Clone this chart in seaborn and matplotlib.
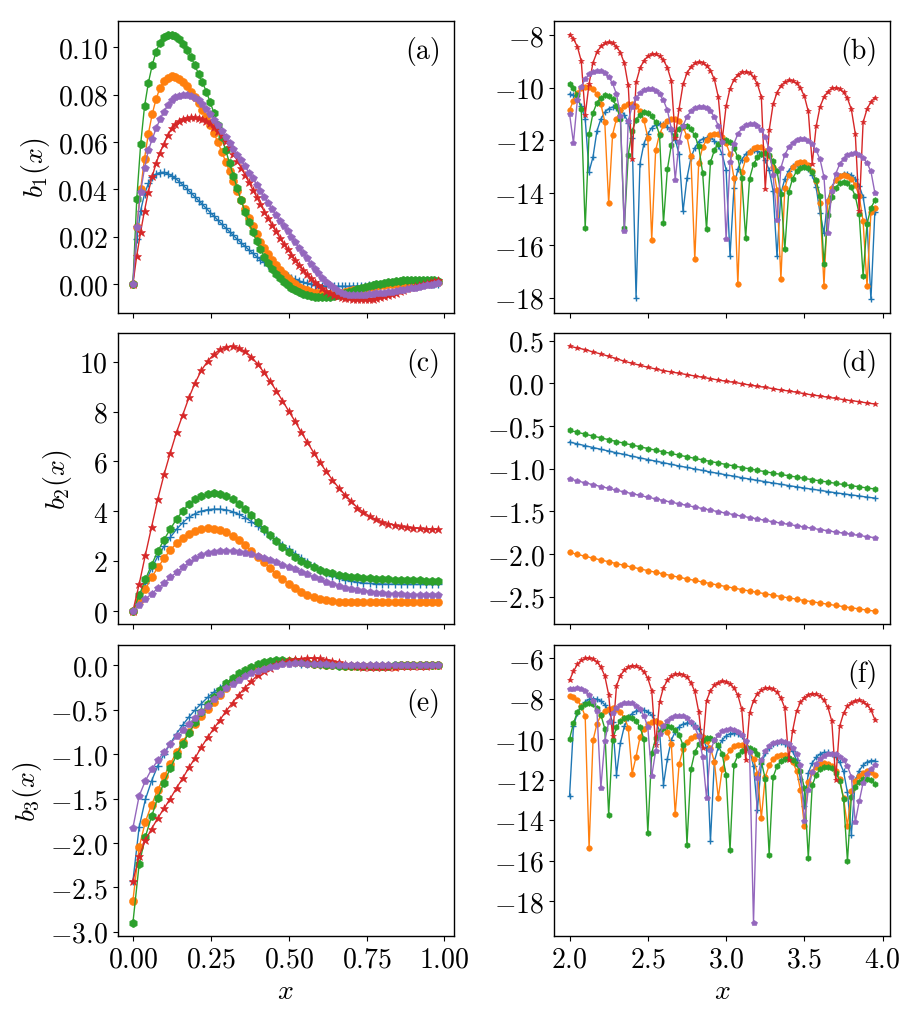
import numpy as np
import matplotlib
matplotlib.use("Agg")
import matplotlib.pyplot as plt
from matplotlib.ticker import MultipleLocator
import seaborn as sns

# sample positions
x_left_a = np.linspace(0.0, 0.98, 80)
x_left = np.linspace(0.0, 0.98, 50)
x_right = np.linspace(2.0, 3.95, 79)
x_right_d = np.linspace(2.0, 3.95, 40)

# ---- panel (a): b1(x), x in [0, 1]
a_blue = [0.0, .019, .031, .038, .0425, .045, .0465, .0471, .0472, .0466,
          .0457, .0446, .0432, .0417, .0401, .0385, .0369, .0352, .0336, .0319,
          .0302, .0286, .0269, .0253, .0237, .0221, .0205, .0189, .0174, .0159,
          .0144, .0130, .0116, .0103, .0091, .0079, .0068, .0058, .0049, .0040,
          .0032, .0025, .0019, .0013, .0008, .0004, .0000, -.0003, -.0005, -.0007,
          -.0008, -.0009, -.0010, -.0010, -.0010, -.0010, -.0010, -.0009, -.0009, -.0008,
          -.0007, -.0006, -.0005, -.0004, -.0003, -.0002, -.0001, .0000, .0001, .0002,
          .0002, .0003, .0003, .0003, .0003, .0003, .0003, .0002, .0002, .0001]
a_orange = [0.0, .024, .040, .053, .0635, .0718, .0782, .0828, .0857, .0872,
            .0877, .0875, .0867, .0853, .0835, .0813, .0790, .0765, .0737, .0706,
            .0672, .0636, .0598, .0558, .0517, .0476, .0435, .0394, .0354, .0315,
            .0278, .0243, .0210, .0179, .0151, .0125, .0101, .0079, .0059, .0041,
            .0025, .0011, -.0001, -.0011, -.0020, -.0027, -.0033, -.0037, -.0040, -.0042,
            -.0043, -.0043, -.0042, -.0040, -.0037, -.0034, -.0031, -.0027, -.0024, -.0020,
            -.0017, -.0014, -.0011, -.0008, -.0006, -.0004, -.0002, .0000, .0002, .0003,
            .0004, .0005, .0006, .0006, .0007, .0007, .0007, .0007, .0007, .0007]
a_green = [0.0, .036, .059, .075, .085, .0925, .0982, .1020, .1042, .1053,
           .1054, .1048, .1035, .1016, .0990, .0960, .0925, .0887, .0852, .0812,
           .0768, .0721, .0671, .0619, .0565, .0511, .0457, .0404, .0353, .0305,
           .0260, .0219, .0181, .0147, .0116, .0089, .0065, .0044, .0026, .0010,
           -.0004, -.0016, -.0026, -.0035, -.0042, -.0048, -.0052, -.0055, -.0057, -.0057,
           -.0056, -.0054, -.0051, -.0047, -.0043, -.0038, -.0033, -.0028, -.0023, -.0018,
           -.0014, -.0010, -.0006, -.0002, .0001, .0004, .0007, .0010, .0012, .0014,
           .0016, .0017, .0018, .0018, .0018, .0018, .0017, .0016, .0015, .0014]
a_red = [0.0, .012, .022, .031, .039, .0455, .0510, .0555, .0590, .0628,
         .0657, .0677, .0690, .0698, .0702, .0704, .0704, .0701, .0696, .0690,
         .0679, .0665, .0648, .0628, .0604, .0578, .0550, .0521, .0491, .0461,
         .0430, .0399, .0368, .0337, .0306, .0277, .0249, .0222, .0196, .0171,
         .0147, .0124, .0102, .0081, .0061, .0042, .0025, .0009, -.0005, -.0018,
         -.0029, -.0038, -.0045, -.0051, -.0055, -.0058, -.0060, -.0062, -.0064, -.0065,
         -.0065, -.0064, -.0062, -.0059, -.0055, -.0051, -.0046, -.0041, -.0036, -.0030,
         -.0024, -.0019, -.0013, -.0008, -.0003, .0002, .0006, .0010, .0014, .0017]
a_purple = [0.0, .024, .039, .049, .0565, .0612, .0657, .0695, .0728, .0755,
            .0776, .0789, .0796, .0799, .0799, .0795, .0787, .0776, .0760, .0741,
            .0718, .0694, .0670, .0645, .0620, .0596, .0572, .0547, .0522, .0497,
            .0471, .0446, .0420, .0394, .0368, .0343, .0317, .0292, .0268, .0245,
            .0222, .0199, .0176, .0153, .0130, .0108, .0086, .0065, .0045, .0026,
            .0009, -.0006, -.0018, -.0028, -.0036, -.0041, -.0045, -.0047, -.0048, -.0047,
            -.0046, -.0044, -.0042, -.0040, -.0038, -.0036, -.0034, -.0032, -.0030, -.0027,
            -.0024, -.0021, -.0018, -.0015, -.0012, -.0009, -.0006, -.0003, .0000, .0003]

# ---- panel (b): b1(x), x in [2, 4]
b_blue = [-10.25, -10.28, -10.44, -10.71, -11.19, -13.2, -12.64, -11.65, -11.20, -10.94,
          -10.80, -10.74, -10.76, -10.85, -11.03, -11.34, -11.92, -17.99, -12.89, -12.14,
          -11.76, -11.53, -11.42, -11.37, -11.39, -11.49, -11.67, -11.98, -12.54, -14.71,
          -13.45, -12.68, -12.29, -12.06, -11.95, -11.90, -11.92, -12.02, -12.21, -12.54,
          -13.13, -16.42, -13.83, -13.10, -12.74, -12.53, -12.41, -12.38, -12.42, -12.54,
          -12.76, -13.14, -13.93, -16.42, -14.03, -13.47, -13.16, -12.98, -12.90, -12.88,
          -12.94, -13.08, -13.34, -13.79, -14.78, -15.53, -14.26, -13.78, -13.51, -13.35,
          -13.27, -13.27, -13.33, -13.47, -13.73, -14.17, -15.12, -18.06, -14.72]
b_orange = [-10.85, -10.50, -10.19, -10.02, -9.96, -9.97, -10.07, -10.25, -10.61, -11.30,
            -14.4, -11.79, -11.19, -10.86, -10.69, -10.61, -10.61, -10.70, -10.89, -11.24,
            -11.90, -15.79, -12.39, -11.77, -11.44, -11.26, -11.19, -11.19, -11.29, -11.49,
            -11.86, -12.60, -16.54, -12.86, -12.28, -11.98, -11.82, -11.75, -11.77, -11.89,
            -12.12, -12.53, -13.43, -17.49, -13.23, -12.72, -12.45, -12.31, -12.25, -12.28,
            -12.40, -12.62, -13.03, -13.89, -17.29, -13.82, -13.31, -13.03, -12.88, -12.82,
            -12.85, -12.96, -13.19, -13.57, -14.41, -17.55, -14.33, -13.81, -13.53, -13.38,
            -13.32, -13.35, -13.47, -13.70, -14.13, -15.09, -17.55, -14.73, -14.6]
b_green = [-9.85, -10.00, -10.28, -10.81, -15.34, -11.75, -10.96, -10.58, -10.38, -10.30,
           -10.32, -10.45, -10.70, -11.20, -15.34, -12.55, -11.64, -11.23, -11.03, -10.94,
           -10.95, -11.07, -11.32, -11.81, -15.15, -13.11, -12.19, -11.79, -11.58, -11.48,
           -11.48, -11.59, -11.82, -12.24, -13.24, -15.4, -12.85, -12.38, -12.14, -12.02,
           -12.01, -12.08, -12.29, -12.66, -13.45, -15.72, -13.46, -12.92, -12.66, -12.53,
           -12.50, -12.58, -12.79, -13.18, -14.04, -16.16, -13.97, -13.46, -13.18, -13.05,
           -13.01, -13.07, -13.22, -13.53, -14.12, -16.73, -14.86, -14.15, -13.81, -13.64,
           -13.58, -13.63, -13.79, -14.13, -14.81, -17.17, -15.18, -14.59, -14.29]
b_red = [-7.98, -8.14, -8.44, -8.99, -11.05, -9.85, -9.05, -8.66, -8.43, -8.32,
         -8.28, -8.32, -8.44, -8.67, -9.07, -9.92, -12.7, -9.80, -9.27, -8.97,
         -8.81, -8.73, -8.73, -8.80, -8.96, -9.24, -9.74, -11.9, -10.80, -9.88,
         -9.45, -9.21, -9.08, -9.03, -9.05, -9.16, -9.35, -9.69, -10.35, -12.0,
         -10.70, -10.04, -9.70, -9.51, -9.41, -9.39, -9.45, -9.60, -9.87, -10.35,
         -13.87, -11.63, -10.64, -10.19, -9.93, -9.79, -9.73, -9.75, -9.84, -10.02,
         -10.33, -10.91, -12.9, -11.48, -10.73, -10.36, -10.15, -10.03, -10.00, -10.05,
         -10.18, -10.41, -10.83, -11.75, -14.7, -11.32, -10.82, -10.54, -10.38]
b_purple = [-10.99, -12.1, -10.47, -9.97, -9.67, -9.50, -9.39, -9.35, -9.37, -9.45,
            -9.60, -9.84, -10.25, -11.07, -15.47, -11.26, -10.72, -10.40, -10.21, -10.09,
            -10.04, -10.05, -10.12, -10.26, -10.49, -10.86, -11.56, -13.5, -12.08, -11.45,
            -11.11, -10.90, -10.78, -10.72, -10.72, -10.78, -10.90, -11.11, -11.45, -12.08,
            -15.78, -12.84, -12.13, -11.77, -11.55, -11.43, -11.37, -11.38, -11.46, -11.62,
            -11.88, -12.34, -13.33, -15.03, -13.05, -12.56, -12.27, -12.09, -11.99, -11.94,
            -11.95, -12.02, -12.16, -12.39, -12.73, -13.40, -15.53, -13.94, -13.28, -12.92,
            -12.70, -12.57, -12.51, -12.50, -12.56, -12.67, -12.87, -13.19, -14.0]

# ---- panel (c): b2(x), x in [0, 1]
c_blue = [0.0, .50, 1.12, 1.72, 2.20, 2.60, 2.96, 3.28, 3.55, 3.76,
          3.91, 4.01, 4.07, 4.09, 4.09, 4.06, 3.99, 3.88, 3.75, 3.59,
          3.41, 3.22, 3.03, 2.84, 2.66, 2.48, 2.31, 2.13, 1.96, 1.80,
          1.66, 1.53, 1.42, 1.33, 1.26, 1.20, 1.16, 1.13, 1.11, 1.10,
          1.09, 1.08, 1.08, 1.07, 1.07, 1.07, 1.07, 1.07, 1.07, 1.07]
c_orange = [0.0, .40, .88, 1.35, 1.75, 2.12, 2.45, 2.72, 2.93, 3.10,
            3.22, 3.29, 3.32, 3.31, 3.26, 3.16, 3.03, 2.86, 2.65, 2.42,
            2.18, 1.95, 1.72, 1.50, 1.29, 1.10, .93, .78, .65, .55,
            .48, .43, .40, .38, .37, .36, .36, .36, .36, .36,
            .36, .36, .36, .36, .36, .36, .36, .36, .36, .36]
c_green = [0.0, .63, 1.27, 1.86, 2.40, 2.87, 3.29, 3.69, 4.02, 4.28,
           4.48, 4.61, 4.69, 4.72, 4.69, 4.61, 4.48, 4.30, 4.08, 3.84,
           3.58, 3.31, 3.05, 2.80, 2.57, 2.36, 2.18, 2.02, 1.88, 1.76,
           1.66, 1.58, 1.51, 1.46, 1.42, 1.38, 1.35, 1.33, 1.31, 1.29,
           1.28, 1.27, 1.26, 1.25, 1.24, 1.23, 1.23, 1.22, 1.22, 1.21]
c_red = [0.0, 1.08, 2.25, 3.38, 4.50, 5.48, 6.35, 7.17, 7.87, 8.57,
         9.16, 9.66, 10.02, 10.30, 10.50, 10.60, 10.62, 10.56, 10.41, 10.20,
         9.91, 9.58, 9.22, 8.84, 8.44, 8.02, 7.62, 7.18, 6.77, 6.36,
         5.96, 5.61, 5.27, 4.95, 4.67, 4.41, 4.15, 3.97, 3.80, 3.68,
         3.58, 3.51, 3.45, 3.40, 3.37, 3.34, 3.32, 3.30, 3.29, 3.28]
c_purple = [0.0, .25, .48, .70, .91, 1.13, 1.35, 1.56, 1.76, 1.95,
            2.11, 2.24, 2.33, 2.39, 2.42, 2.43, 2.42, 2.39, 2.34, 2.28,
            2.21, 2.13, 2.04, 1.95, 1.86, 1.77, 1.68, 1.58, 1.48, 1.37,
            1.27, 1.18, 1.09, 1.01, .94, .88, .83, .79, .76, .73,
            .71, .69, .68, .67, .66, .66, .65, .65, .65, .64]

# ---- panel (d): b2(x), x in [2, 4]
d_blue = [-.688, -.709, -.731, -.752, -.773, -.793, -.814, -.833, -.854, -.873,
          -.893, -.911, -.930, -.949, -.968, -.985, -1.003, -1.020, -1.039, -1.055,
          -1.072, -1.088, -1.105, -1.121, -1.137, -1.152, -1.168, -1.182, -1.198, -1.212,
          -1.227, -1.240, -1.254, -1.268, -1.282, -1.294, -1.307, -1.319, -1.333, -1.344]
d_orange = [-1.981, -2.003, -2.026, -2.047, -2.069, -2.090, -2.112, -2.132, -2.153, -2.173,
            -2.194, -2.213, -2.233, -2.252, -2.272, -2.290, -2.309, -2.327, -2.346, -2.363,
            -2.381, -2.398, -2.416, -2.432, -2.449, -2.465, -2.482, -2.497, -2.513, -2.528,
            -2.544, -2.558, -2.573, -2.587, -2.602, -2.615, -2.629, -2.642, -2.656, -2.668]
d_green = [-.551, -.573, -.596, -.617, -.639, -.660, -.682, -.702, -.723, -.743,
           -.764, -.783, -.803, -.822, -.842, -.860, -.879, -.897, -.916, -.933,
           -.951, -.968, -.986, -1.002, -1.019, -1.035, -1.052, -1.067, -1.083, -1.098,
           -1.114, -1.128, -1.143, -1.157, -1.172, -1.185, -1.199, -1.212, -1.226, -1.238]
d_red = [.434, .414, .395, .367, .344, .316, .289, .258, .234, .211,
         .188, .168, .148, .133, .117, .102, .086, .070, .055, .039,
         .023, .012, -.004, -.020, -.035, -.047, -.063, -.078, -.090, -.105,
         -.121, -.137, -.148, -.164, -.176, -.191, -.203, -.215, -.230, -.242]
d_purple = [-1.121, -1.143, -1.166, -1.187, -1.209, -1.230, -1.252, -1.272, -1.293, -1.313,
            -1.334, -1.353, -1.373, -1.392, -1.412, -1.430, -1.449, -1.467, -1.486, -1.503,
            -1.521, -1.538, -1.556, -1.572, -1.589, -1.605, -1.622, -1.637, -1.653, -1.668,
            -1.684, -1.698, -1.713, -1.727, -1.742, -1.755, -1.769, -1.782, -1.796, -1.808]

# ---- panel (e): b3(x), x in [0, 1]
e_blue = [-2.43, -1.82, -1.51, -1.30, -1.13, -1.00, -.88, -.77, -.67, -.58,
          -.50, -.43, -.36, -.30, -.25, -.20, -.155, -.11, -.07, -.04,
          -.012, .008, .022, .029, .031, .029, .025, .020, .015, .010,
          .006, .003, .001, -.001, -.002, -.002, -.002, -.002, -.001, -.001,
          -.001, 0.0, 0.0, 0.0, 0.0, 0.0, 0.0, 0.0, 0.0, 0.0]
e_orange = [-2.65, -2.05, -1.76, -1.57, -1.40, -1.25, -1.11, -.98, -.86, -.75,
            -.66, -.57, -.49, -.41, -.33, -.25, -.18, -.12, -.07, -.035,
            -.008, .015, .030, .040, .044, .045, .041, .035, .028, .021,
            .014, .008, .003, .000, -.002, -.003, -.004, -.004, -.004, -.003,
            -.003, -.002, -.002, -.001, -.001, 0.0, 0.0, 0.0, 0.0, 0.0]
e_green = [-2.90, -2.24, -1.93, -1.70, -1.49, -1.32, -1.16, -1.01, -.88, -.76,
           -.64, -.53, -.44, -.36, -.28, -.20, -.14, -.09, -.05, -.015,
           .015, .035, .048, .055, .056, .052, .045, .036, .027, .018,
           .010, .004, -.001, -.004, -.006, -.007, -.007, -.006, -.005, -.004,
           -.003, -.002, -.001, .000, .000, .001, .001, .001, .001, .001]
e_red = [-2.43, -2.15, -1.97, -1.84, -1.72, -1.61, -1.50, -1.38, -1.27, -1.15,
         -1.04, -.92, -.81, -.71, -.61, -.51, -.42, -.33, -.25, -.18,
         -.11, -.065, -.027, .010, .036, .055, .068, .076, .081, .083,
         .078, .066, .050, .034, .019, .006, -.005, -.013, -.018, -.020,
         -.019, -.017, -.014, -.011, -.008, -.006, -.004, -.002, -.001, .000]
e_purple = [-1.83, -1.47, -1.30, -1.17, -1.07, -.975, -.885, -.80, -.725, -.66,
            -.595, -.53, -.455, -.38, -.32, -.26, -.21, -.165, -.125, -.090,
            -.060, -.036, -.018, -.002, .010, .018, .022, .023, .021, .018,
            .015, .012, .009, .007, .005, .004, .003, .002, .002, .001,
            .001, .001, 0.0, 0.0, 0.0, 0.0, 0.0, 0.0, 0.0, 0.0]

# ---- panel (f): b3(x), x in [2, 4]
f_blue = [-12.83, -9.37, -8.71, -8.36, -8.16, -8.04, -8.00, -8.03, -8.12, -8.30,
          -8.61, -9.16, -11.76, -10.19, -9.37, -8.97, -8.74, -8.61, -8.55, -8.57,
          -8.65, -8.82, -9.11, -9.60, -12.25, -10.97, -10.06, -9.63, -9.39, -9.26,
          -9.20, -9.22, -9.32, -9.50, -9.84, -10.45, -15.05, -11.10, -10.40, -10.05,
          -9.84, -9.73, -9.70, -9.75, -9.87, -10.10, -10.50, -11.35, -13.48, -11.25,
          -10.71, -10.42, -10.25, -10.17, -10.15, -10.22, -10.35, -10.61, -11.04, -11.98,
          -13.3, -11.67, -11.18, -10.90, -10.74, -10.66, -10.66, -10.73, -10.88, -11.14,
          -11.60, -12.63, -14.72, -12.04, -11.56, -11.29, -11.13, -11.06, -11.06]
f_orange = [-7.88, -7.94, -8.09, -8.37, -8.88, -15.37, -10.07, -9.25, -8.83, -8.62,
            -8.50, -8.47, -8.52, -8.67, -8.94, -9.43, -11.7, -10.87, -9.92, -9.49,
            -9.27, -9.15, -9.12, -9.19, -9.35, -9.64, -10.22, -13.7, -11.23, -10.51,
            -10.13, -9.94, -9.84, -9.84, -9.92, -10.11, -10.45, -11.11, -12.9, -11.49,
            -10.87, -10.54, -10.36, -10.29, -10.29, -10.39, -10.59, -10.96, -11.70, -13.9,
            -11.87, -11.30, -11.00, -10.84, -10.77, -10.80, -10.92, -11.14, -11.56, -12.52,
            -14.3, -12.13, -11.64, -11.38, -11.23, -11.18, -11.21, -11.33, -11.56, -11.97,
            -12.90, -14.3, -12.57, -12.07, -11.80, -11.65, -11.60, -11.63, -11.75]
f_green = [-10.0, -9.22, -8.68, -8.40, -8.26, -8.22, -8.29, -8.46, -8.80, -9.48,
           -13.73, -10.03, -9.42, -9.12, -8.96, -8.91, -8.96, -9.11, -9.41, -9.99,
           -14.63, -10.69, -9.97, -9.63, -9.44, -9.37, -9.40, -9.53, -9.79, -10.31,
           -15.21, -11.50, -10.65, -10.25, -10.05, -9.96, -9.97, -10.07, -10.31, -10.74,
           -11.78, -15.49, -11.26, -10.81, -10.57, -10.46, -10.45, -10.53, -10.73, -11.12,
           -11.95, -15.7, -11.88, -11.35, -11.09, -10.96, -10.93, -11.01, -11.21, -11.59,
           -12.42, -15.87, -12.29, -11.76, -11.50, -11.37, -11.36, -11.44, -11.65, -12.05,
           -12.94, -16.03, -12.85, -12.35, -12.10, -11.97, -11.95, -12.03, -12.23]
f_red = [-7.10, -6.66, -6.32, -6.12, -6.02, -6.00, -6.05, -6.19, -6.44, -6.88,
         -7.81, -9.87, -7.37, -6.87, -6.60, -6.45, -6.38, -6.40, -6.49, -6.67,
         -7.00, -7.61, -10.28, -8.16, -7.46, -7.11, -6.90, -6.80, -6.77, -6.82,
         -6.96, -7.21, -7.65, -8.65, -10.44, -8.10, -7.62, -7.35, -7.21, -7.15,
         -7.17, -7.27, -7.48, -7.83, -8.53, -11.02, -8.71, -8.10, -7.77, -7.59,
         -7.50, -7.48, -7.55, -7.70, -7.97, -8.47, -11.02, -9.58, -8.63, -8.19,
         -7.95, -7.81, -7.76, -7.79, -7.89, -8.09, -8.43, -9.11, -12.0, -9.37,
         -8.73, -8.39, -8.21, -8.11, -8.09, -8.15, -8.30, -8.56, -9.04]
f_purple = [-7.55, -7.52, -7.50, -7.54, -7.64, -7.81, -8.10, -8.60, -12.41, -10.12,
            -9.17, -8.72, -8.46, -8.30, -8.22, -8.20, -8.24, -8.35, -8.54, -8.85,
            -9.40, -11.84, -10.59, -9.77, -9.35, -9.11, -8.95, -8.87, -8.85, -8.88,
            -8.98, -9.15, -9.42, -9.87, -10.87, -12.9, -10.56, -10.07, -9.79, -9.62,
            -9.53, -9.50, -9.53, -9.64, -9.81, -10.11, -10.65, -19.07, -11.93, -11.04,
            -10.61, -10.36, -10.21, -10.13, -10.11, -10.15, -10.26, -10.45, -10.76, -11.29,
            -14.06, -12.49, -11.64, -11.22, -10.97, -10.82, -10.74, -10.72, -10.76, -10.87,
            -11.05, -11.34, -11.86, -14.1, -13.08, -12.16, -11.72, -11.46, -11.30]

colors = ["#1f77b4", "#ff7f0e", "#2ca02c", "#d62728", "#9467bd"]
markers = ["+", "o", "h", "*", "p"]
marker_scale = [1.0, 1.0, 1.05, 1.1, 1.05]

plt.rcParams.update({
    "font.family": "serif",
    "font.serif": ["cmr10"],
    "mathtext.fontset": "cm",
    "axes.formatter.use_mathtext": True,
    "font.size": 20,
    "axes.linewidth": 1.0,
})

# row, col, x, series, tag, marker size, y tick step, tag height
panels = [
    (0, 0, x_left_a, [a_blue, a_orange, a_green, a_red, a_purple], "(a)", 5.8, 0.02, 0.95),
    (0, 1, x_right, [b_blue, b_orange, b_green, b_red, b_purple], "(b)", 4.0, 2, 0.95),
    (1, 0, x_left, [c_blue, c_orange, c_green, c_red, c_purple], "(c)", 5.8, 2, 0.95),
    (1, 1, x_right_d, [d_blue, d_orange, d_green, d_red, d_purple], "(d)", 4.0, 0.5, 0.95),
    (2, 0, x_left, [e_blue, e_orange, e_green, e_red, e_purple], "(e)", 5.8, 0.5, 0.85),
    (2, 1, x_right, [f_blue, f_orange, f_green, f_red, f_purple], "(f)", 4.0, 2, 0.95),
]

fig, axes = plt.subplots(3, 2, figsize=(9.12, 10.12), dpi=100, sharex="col")
fig.subplots_adjust(left=0.129, right=0.976, top=0.978, bottom=0.074,
                    wspace=0.30, hspace=0.07)

for row, col, xs, series, tag, ms, ystep, ty in panels:
    ax = axes[row, col]
    for ys, c, m, k in zip(series, colors, markers, marker_scale):
        sns.lineplot(x=xs, y=ys, ax=ax, color=c, marker=m, markersize=ms * k,
                     markeredgecolor=c, markeredgewidth=1.0 if m == "+" else 0.4,
                     linewidth=1.0)
    ax.yaxis.set_major_locator(MultipleLocator(ystep))
    ax.text(0.962, ty, tag, transform=ax.transAxes, ha="right", va="top")
    ax.set_xlabel("")
    ax.set_ylabel("")

for row in range(3):
    axes[row, 0].set_ylabel(f"$b_{row + 1}(x)$")

axes[2, 0].set_xticks([0.0, 0.25, 0.5, 0.75, 1.0])
axes[2, 1].set_xticks([2.0, 2.5, 3.0, 3.5, 4.0])
axes[2, 0].set_xlabel("$x$")
axes[2, 1].set_xlabel("$x$")

fig.savefig("out.png", dpi=100)
